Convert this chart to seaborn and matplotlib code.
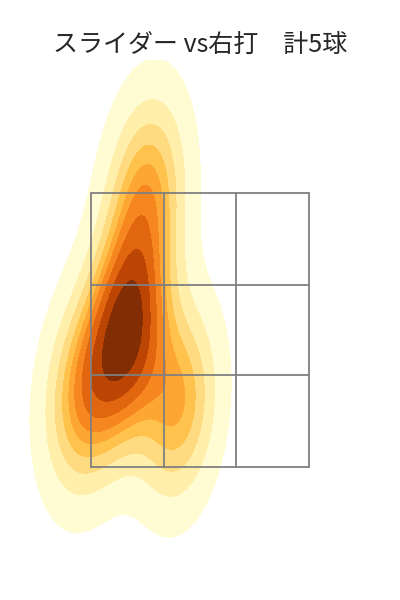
import numpy as np
import pandas as pd
import matplotlib
matplotlib.use("Agg")
import matplotlib.pyplot as plt
import seaborn as sns

# pitch locations (plate_x, plate_z) for the 5 sliders
plate_x = [-0.58, -0.52, -0.88, -0.16, -0.40]
plate_z = [2.35, 2.65, 2.00, 1.95, 3.52]

# strike zone grid
zone_x = [-0.82, -0.27, 0.27, 0.82]
zone_z = [1.5, 2.17, 2.83, 3.5]

title = "スライダー vs右打\u3000計5球"

sns.set_style("white")
plt.rcParams['font.family'] = ['Noto Sans CJK JP', 'DejaVu Sans']

df = pd.DataFrame({"plate_x": plate_x, "plate_z": plate_z})

fig = plt.figure(figsize=(4, 6), dpi=100)
ax = fig.add_axes([0, 0, 1, 0.9])

sns.kdeplot(data=df, x="plate_x", y="plate_z", fill=True, cmap="YlOrBr",
            levels=10, ax=ax)

for x in zone_x:
    ax.plot([x, x], [zone_z[0], zone_z[-1]], color="gray", lw=1.3)
for z in zone_z:
    ax.plot([zone_x[0], zone_x[-1]], [z, z], color="gray", lw=1.3)

ax.set_xlim(-1.5, 1.5)
ax.set_ylim(0.53, 4.47)
ax.axis("off")
ax.set_title(title, fontsize=18)

fig.savefig("out.png", dpi=100)
